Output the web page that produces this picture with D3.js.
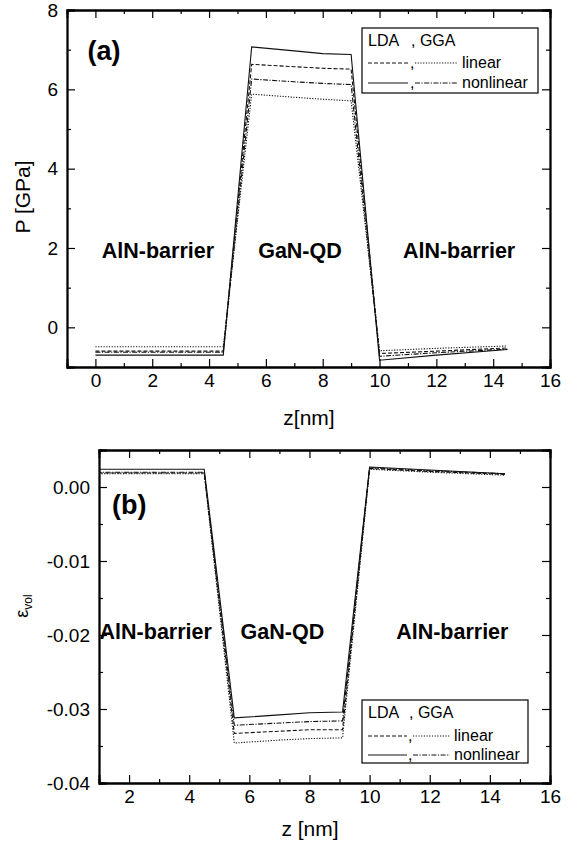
<!DOCTYPE html>
<html lang="en">
<head>
<meta charset="UTF-8">
<title>Hydrostatic pressure and volumetric strain along z</title>
<script src="https://d3js.org/d3.v7.min.js"></script>
<style>
  body { margin: 0; background: #fff; }
  svg { font-family: Arial, "Liberation Sans", sans-serif; }
  .tick text { font-size: 19px; fill: #000; }
  .tick line { stroke: #000; stroke-width: 1.2; }
  .domain { stroke: #000; stroke-width: 1.8; }
  .region { font-size: 21.5px; font-weight: bold; }
  .tag { font-size: 27px; font-weight: bold; }
  .axis-title { font-size: 21px; }
  .legend text { font-size: 16px; }
  .curve { fill: none; stroke: #111; stroke-width: 1.1; }
</style>
</head>
<body>
<svg id="chart" width="578" height="848"></svg>
<script>
// ---- data ----
// (a) pressure P [GPa] vs z [nm]
const zA = [0, 4.5, 5.5, 7, 8, 9, 10, 12, 14.5];
const pLdaLin = [-0.60, -0.60, 6.63, 6.57, 6.53, 6.51, -0.66, -0.60, -0.52];
const pGgaLin = [-0.49, -0.49, 5.88, 5.80, 5.75, 5.71, -0.59, -0.53, -0.47];
const pLdaNon = [-0.70, -0.70, 7.07, 6.97, 6.90, 6.88, -0.83, -0.70, -0.56];
const pGgaNon = [-0.63, -0.63, 6.26, 6.19, 6.15, 6.12, -0.73, -0.64, -0.55];

// (b) volumetric strain vs z [nm]
const zB = [0, 4.5, 5.5, 7, 8, 9.1, 10, 12, 14.5];
const eLdaLin = [0.0019, 0.0019, -0.0333, -0.0330, -0.0328, -0.0328, 0.0025, 0.0021, 0.0017];
const eGgaLin = [0.0018, 0.0018, -0.0346, -0.0342, -0.0340, -0.0339, 0.0024, 0.0020, 0.0016];
const eLdaNon = [0.0024, 0.0024, -0.0312, -0.0308, -0.0305, -0.0304, 0.0027, 0.0023, 0.0018];
const eGgaNon = [0.0020, 0.0020, -0.0322, -0.0319, -0.0317, -0.0316, 0.0026, 0.0022, 0.0018];

const regionLabels = ["AlN-barrier", "GaN-QD", "AlN-barrier"];

const dash = { ldaLin: "4,2", ggaLin: "1.2,1.5", ldaNon: null, ggaNon: "5,1.5,1.2,1.5" };

const svg = d3.select("#chart");

function panel(cfg) {
  const w = cfg.right - cfg.left, h = cfg.bottom - cfg.top;
  const g = svg.append("g").attr("transform", `translate(${cfg.left},${cfg.top})`);
  const x = d3.scaleLinear().domain(cfg.xDomain).range([0, w]);
  const y = d3.scaleLinear().domain(cfg.yDomain).range([h, 0]);

  g.append("clipPath").attr("id", cfg.id).append("rect").attr("width", w).attr("height", h);

  // minor ticks on all four sides
  g.append("g").attr("transform", `translate(0,${h})`)
    .call(d3.axisBottom(x).tickValues(cfg.xMinor).tickSize(-4).tickFormat(""));
  g.append("g").call(d3.axisTop(x).tickValues(cfg.xMinor).tickSize(-4).tickFormat(""));
  g.append("g").call(d3.axisLeft(y).tickValues(cfg.yMinor).tickSize(-4).tickFormat(""));
  g.append("g").attr("transform", `translate(${w},0)`)
    .call(d3.axisRight(y).tickValues(cfg.yMinor).tickSize(-4).tickFormat(""));

  // major ticks
  g.append("g").attr("transform", `translate(0,${h})`)
    .call(d3.axisBottom(x).tickValues(cfg.xMajor).tickSize(-8).tickPadding(7).tickFormat(d3.format("d")));
  g.append("g").call(d3.axisTop(x).tickValues(cfg.xMajor).tickSize(-8).tickFormat(""));
  g.append("g")
    .call(d3.axisLeft(y).tickValues(cfg.yMajor).tickSize(-8).tickPadding(9).tickFormat(cfg.yFmt));
  g.append("g").attr("transform", `translate(${w},0)`)
    .call(d3.axisRight(y).tickValues(cfg.yMajor).tickSize(-8).tickFormat(""));

  const line = d3.line().x((d, i) => x(cfg.z[i])).y(d => y(d));
  const curves = g.append("g").attr("clip-path", `url(#${cfg.id})`);
  cfg.series.forEach(s => {
    curves.append("path").attr("class", "curve")
      .attr("d", line(s.values))
      .attr("stroke-dasharray", dash[s.key]);
  });

  // region labels
  cfg.regions.forEach((r, i) => {
    g.append("text").attr("class", "region")
      .attr("x", x(r.z)).attr("y", y(r.v))
      .attr("text-anchor", r.anchor || "middle")
      .text(regionLabels[i]);
  });

  g.append("text").attr("class", "tag").attr("x", x(cfg.tag.z)).attr("y", y(cfg.tag.v)).text(cfg.tag.text);

  // legend
  const L = cfg.legend;
  const lg = svg.append("g").attr("class", "legend").attr("transform", `translate(${L.x},${L.y})`);
  lg.append("rect").attr("width", L.w).attr("height", L.h)
    .attr("fill", "#fff").attr("stroke", "#000").attr("stroke-width", 1.2);
  lg.append("text").attr("x", 6).attr("y", 18).text("LDA");
  lg.append("text").attr("x", L.comma + 1).attr("y", 18).text(", GGA");
  [["ldaLin", "ggaLin", "linear", L.r2], ["ldaNon", "ggaNon", "nonlinear", L.r3]].forEach(row => {
    lg.append("line").attr("x1", 6).attr("x2", L.l1).attr("y1", row[3]).attr("y2", row[3])
      .attr("stroke", "#111").attr("stroke-dasharray", dash[row[0]]);
    lg.append("text").attr("x", L.comma).attr("y", row[3] + 5).text(",");
    lg.append("line").attr("x1", L.comma + 5).attr("x2", L.l2).attr("y1", row[3]).attr("y2", row[3])
      .attr("stroke", "#111").attr("stroke-dasharray", dash[row[1]]);
    lg.append("text").attr("x", L.l2 + 4).attr("y", row[3] + 5).text(row[2]);
  });

  return { g, w, h };
}

const a = panel({
  id: "clipA", left: 67, right: 550, top: 10, bottom: 367,
  xDomain: [-1, 16], yDomain: [-1, 8],
  xMajor: d3.range(0, 17, 2), xMinor: d3.range(-1, 16, 2),
  yMajor: [0, 2, 4, 6, 8], yMinor: [-1, 1, 3, 5, 7],
  yFmt: d3.format("d"),
  z: zA,
  series: [
    { key: "ldaLin", values: pLdaLin }, { key: "ggaLin", values: pGgaLin },
    { key: "ldaNon", values: pLdaNon }, { key: "ggaNon", values: pGgaNon }
  ],
  regions: [{ z: 2.2, v: 1.75 }, { z: 7.2, v: 1.75 }, { z: 12.8, v: 1.75 }],
  tag: { z: -0.28, v: 6.75, text: "(a)" },
  legend: { x: 362, y: 28, w: 176, h: 65, l1: 46, comma: 48, l2: 96, r2: 35, r3: 55 }
});

const b = panel({
  id: "clipB", left: 99, right: 550, top: 450, bottom: 783,
  xDomain: [1, 16], yDomain: [-0.04, 0.005],
  xMajor: d3.range(2, 17, 2), xMinor: d3.range(1, 16, 2),
  yMajor: [0, -0.01, -0.02, -0.03, -0.04], yMinor: [0.005, -0.005, -0.015, -0.025, -0.035],
  yFmt: d => d.toFixed(2),
  z: zB,
  series: [
    { key: "ldaLin", values: eLdaLin }, { key: "ggaLin", values: eGgaLin },
    { key: "ldaNon", values: eLdaNon }, { key: "ggaNon", values: eGgaNon }
  ],
  regions: [{ z: 1.02, v: -0.0205, anchor: "start" }, { z: 7.1, v: -0.0205 }, { z: 12.75, v: -0.0205 }],
  tag: { z: 1.43, v: -0.0036, text: "(b)" },
  legend: { x: 362, y: 700, w: 166, h: 63, l1: 45, comma: 46, l2: 88, r2: 36, r3: 55 }
});

// axis titles
svg.append("text").attr("class", "axis-title").attr("text-anchor", "middle")
  .attr("transform", "translate(30,197) rotate(-90)").text("P [GPa]");
svg.append("text").attr("class", "axis-title").attr("text-anchor", "middle")
  .attr("x", 309).attr("y", 425).text("z[nm]");

const eps = svg.append("text").attr("class", "axis-title").attr("text-anchor", "middle")
  .attr("transform", "translate(28,606) rotate(-90)").style("font-size", "18px");
eps.append("tspan").text("ε");
eps.append("tspan").attr("dy", 4).style("font-size", "12px").text("vol");
svg.append("text").attr("class", "axis-title").attr("text-anchor", "middle")
  .attr("x", 310).attr("y", 836).text("z [nm]");
</script>
</body>
</html>
